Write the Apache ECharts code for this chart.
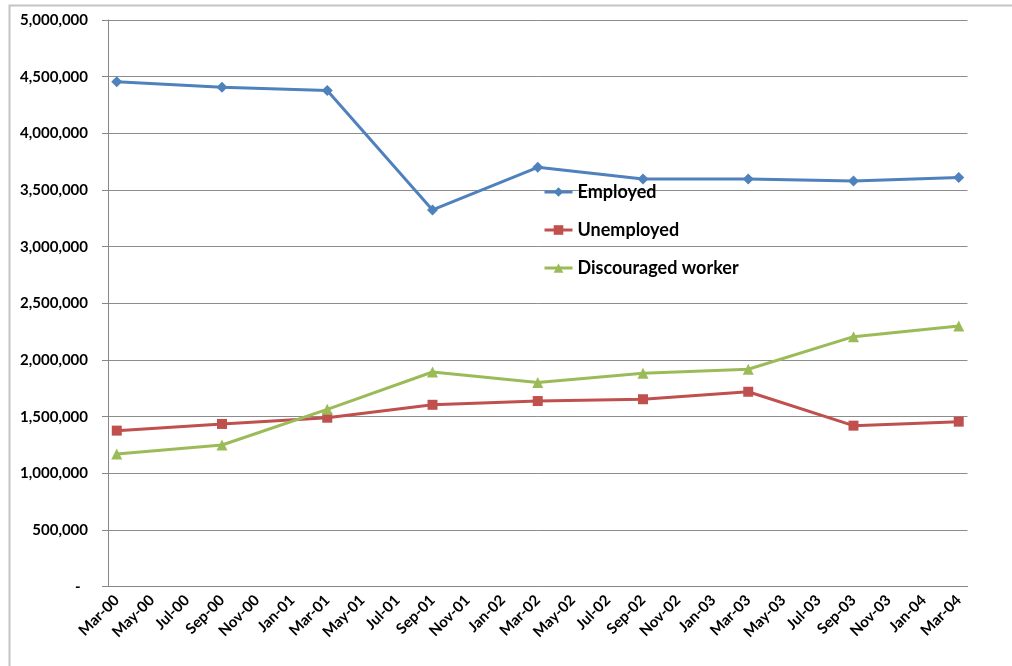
<!DOCTYPE html>
<html>
<head>
<meta charset="utf-8">
<script src="https://cdn.jsdelivr.net/npm/echarts@6/dist/echarts.min.js"></script>
<style>
  html, body { margin: 0; padding: 0; background: #fff; }
  #main { width: 1012px; height: 666px; }
</style>
</head>
<body>
<div id="main"></div>
<script>
// monthly slots on the x axis (Excel date axis, base unit = month)
var months = [
    'Mar-00','Apr-00','May-00','Jun-00','Jul-00','Aug-00','Sep-00','Oct-00','Nov-00','Dec-00',
    'Jan-01','Feb-01','Mar-01','Apr-01','May-01','Jun-01','Jul-01','Aug-01','Sep-01','Oct-01','Nov-01','Dec-01',
    'Jan-02','Feb-02','Mar-02','Apr-02','May-02','Jun-02','Jul-02','Aug-02','Sep-02','Oct-02','Nov-02','Dec-02',
    'Jan-03','Feb-03','Mar-03','Apr-03','May-03','Jun-03','Jul-03','Aug-03','Sep-03','Oct-03','Nov-03','Dec-03',
    'Jan-04','Feb-04','Mar-04'
];

// survey dates
var dates = ['Mar-00','Sep-00','Mar-01','Sep-01','Mar-02','Sep-02','Mar-03','Sep-03','Mar-04'];

var employed    = [4456000, 4406000, 4377000, 3324000, 3700000, 3597000, 3597000, 3580000, 3610000];
var unemployed  = [1377000, 1436000, 1491000, 1605000, 1638000, 1654000, 1720000, 1421000, 1456000];
var discouraged = [1171000, 1250000, 1565000, 1894000, 1801000, 1884000, 1919000, 2206000, 2300000];

var font = 'Lato, "Liberation Sans", sans-serif';

function pairs(vals) {
    var out = [];
    for (var i = 0; i < dates.length; i++) out.push([dates[i], vals[i]]);
    return out;
}

var myChart = echarts.init(document.getElementById('main'));
var option = {
    backgroundColor: '#fff',
    animation: false,
    textStyle: { fontFamily: font },
    graphic: [{
        type: 'rect',
        shape: { x: 9.5, y: 5.5, width: 1010, height: 670 },
        style: { fill: 'none', stroke: '#c4c4c4', lineWidth: 2 },
        silent: true
    }],
    grid: {
        left: 108, right: 44.5, top: 20, bottom: 79.3,
        containLabel: false,
        outerBoundsMode: 'none'
    },
    legend: {
        orient: 'vertical',
        left: 543, top: 183,
        padding: 0,
        itemWidth: 28, itemHeight: 12, itemGap: 20,
        lineStyle: { width: 3 },
        textStyle: { fontFamily: font, fontSize: 18, lineHeight: 18, fontWeight: 'bold', color: '#000' },
        data: ['Employed', 'Unemployed', 'Discouraged worker']
    },
    xAxis: {
        type: 'category',
        data: months,
        boundaryGap: true,
        axisLine: { lineStyle: { color: '#868686', width: 1 } },
        axisTick: { interval: 1, length: 5, lineStyle: { color: '#868686' } },
        axisLabel: {
            interval: 1, rotate: 45, margin: 11,
            fontFamily: font, fontSize: 15, fontWeight: 'bold', color: '#000'
        },
        splitLine: { show: false }
    },
    yAxis: {
        type: 'value',
        min: 0, max: 5000000, interval: 500000,
        axisLine: { show: true, lineStyle: { color: '#868686', width: 1 } },
        axisTick: { show: true, length: 6, lineStyle: { color: '#868686' } },
        axisLabel: {
            margin: 20,
            fontFamily: font, fontSize: 15, fontWeight: 'bold', color: '#000',
            formatter: function (v) { return v === 0 ? '-  ' : echarts.format.addCommas(v); }
        },
        splitLine: { lineStyle: { color: '#8c8c8c', width: 1 } }
    },
    series: [{
        name: 'Employed',
        type: 'line',
        data: pairs(employed),
        symbol: 'diamond', symbolSize: 11,
        lineStyle: { width: 3, color: '#4f81bd' },
        itemStyle: { color: '#4f81bd' }
    }, {
        name: 'Unemployed',
        type: 'line',
        data: pairs(unemployed),
        symbol: 'rect', symbolSize: 10,
        lineStyle: { width: 3, color: '#c0504d' },
        itemStyle: { color: '#c0504d' }
    }, {
        name: 'Discouraged worker',
        type: 'line',
        data: pairs(discouraged),
        symbol: 'triangle', symbolSize: 11,
        lineStyle: { width: 3, color: '#9bbb59' },
        itemStyle: { color: '#9bbb59' }
    }]
};
myChart.setOption(option);
</script>
</body>
</html>
